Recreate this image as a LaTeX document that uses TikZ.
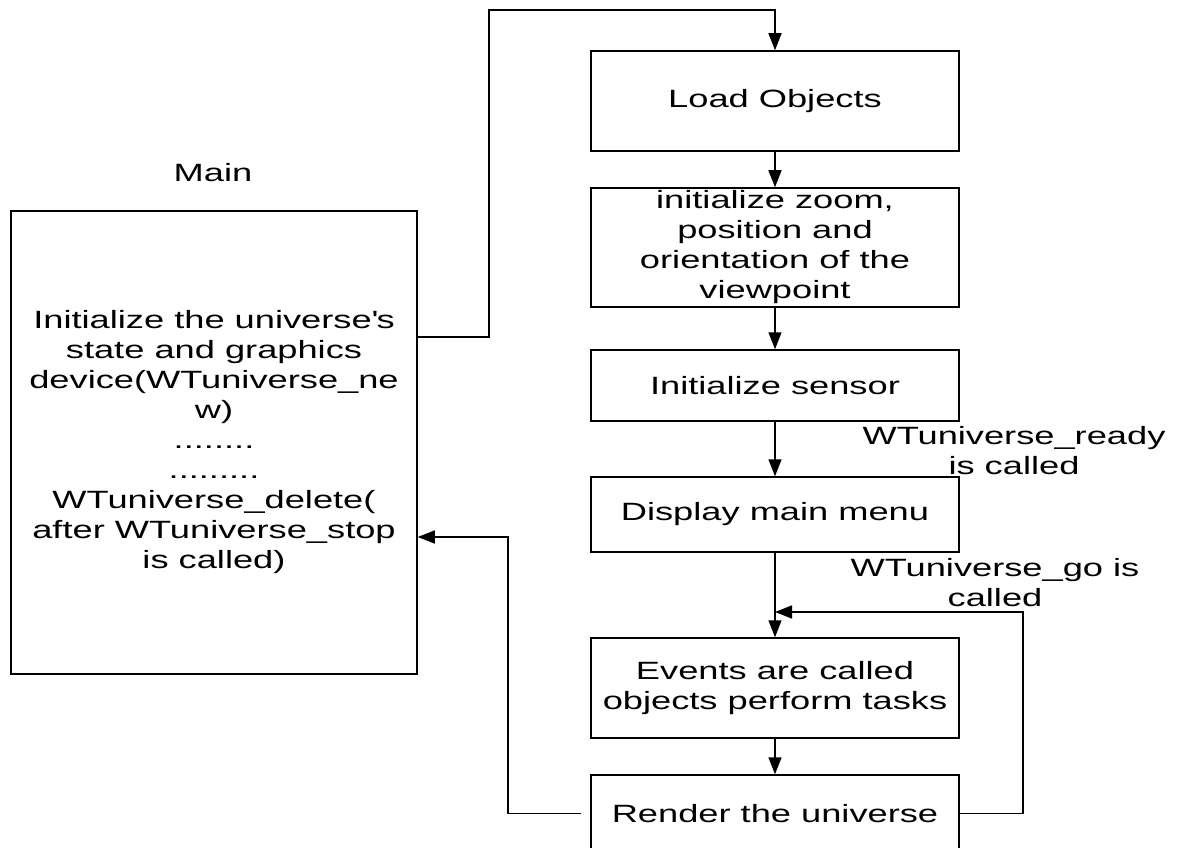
\documentclass[tikz,border=0pt]{standalone}
\usepackage{fontspec}
\setmainfont{Liberation Sans}[FakeStretch=1.45]
\usetikzlibrary{arrows.meta}
\begin{document}
\begin{tikzpicture}[x=1pt,y=-1pt,
  every node/.style={font=\fontsize{25}{30}\selectfont, align=center},
  box/.style={draw, line width=1.5pt, minimum width=368pt, inner sep=0pt},
  conn/.style={line width=1.5pt},
  arr/.style={conn, -{Triangle[length=17pt,width=13pt]}}]
\useasboundingbox (0,0) rectangle (1184,848);
% Main
\node (mainlabel) at (213,173) {Main};
\node[draw, line width=1.5pt, minimum width=406pt, minimum height=463pt, inner sep=0pt] (main) at (214,442.5)
  {Initialize the universe\textquotesingle s\\state and graphics\\device(WTuniverse\_ne\\w)\\........\\.........\\WTuniverse\_delete(\\after WTuniverse\_stop\\is called)};
% flow boxes
\node[box, minimum height=100pt] (load) at (775,101) {Load Objects};
\node[box, minimum height=119pt] (initz) at (775,247.5) {initialize zoom,\\position and\\orientation of the\\viewpoint};
\node[box, minimum height=71pt] (sensor) at (775,385.5) {Initialize sensor};
\node[box, minimum height=75pt] (menu) at (775,514.5) {Display main menu};
\node[box, minimum height=100pt] (events) at (775,688) {Events are called\\objects perform tasks};
\node[box, minimum height=77pt] (render) at (775,813.5) {Render the universe};
% labels
\node (readylbl) at (1014,451) {WTuniverse\_ready\\is called};
\node (golbl) at (995,583) {WTuniverse\_go is\\called};
% coordinates
\coordinate (t1) at (489,337);
\coordinate (t2) at (489,10);
\coordinate (r1) at (1023,612);
\coordinate (l1) at (508,537);
% connectors
\draw[arr] (main.east |- t1) -- (t1) -- (t2) -| (load.north);
\draw[arr] (load.south) -- (initz.north);
\draw[arr] (initz.south) -- (sensor.north);
\draw[arr] (sensor.south) -- (menu.north);
\draw[arr] (menu.south) -- (events.north);
\draw[arr] (events.south) -- (render.north);
\draw[arr] (render.east) -| (r1) -- (menu.south |- r1);
\draw[arr, shorten <=9pt] (render.west) -| (l1) -- (main.east |- l1);
\end{tikzpicture}
\end{document}
